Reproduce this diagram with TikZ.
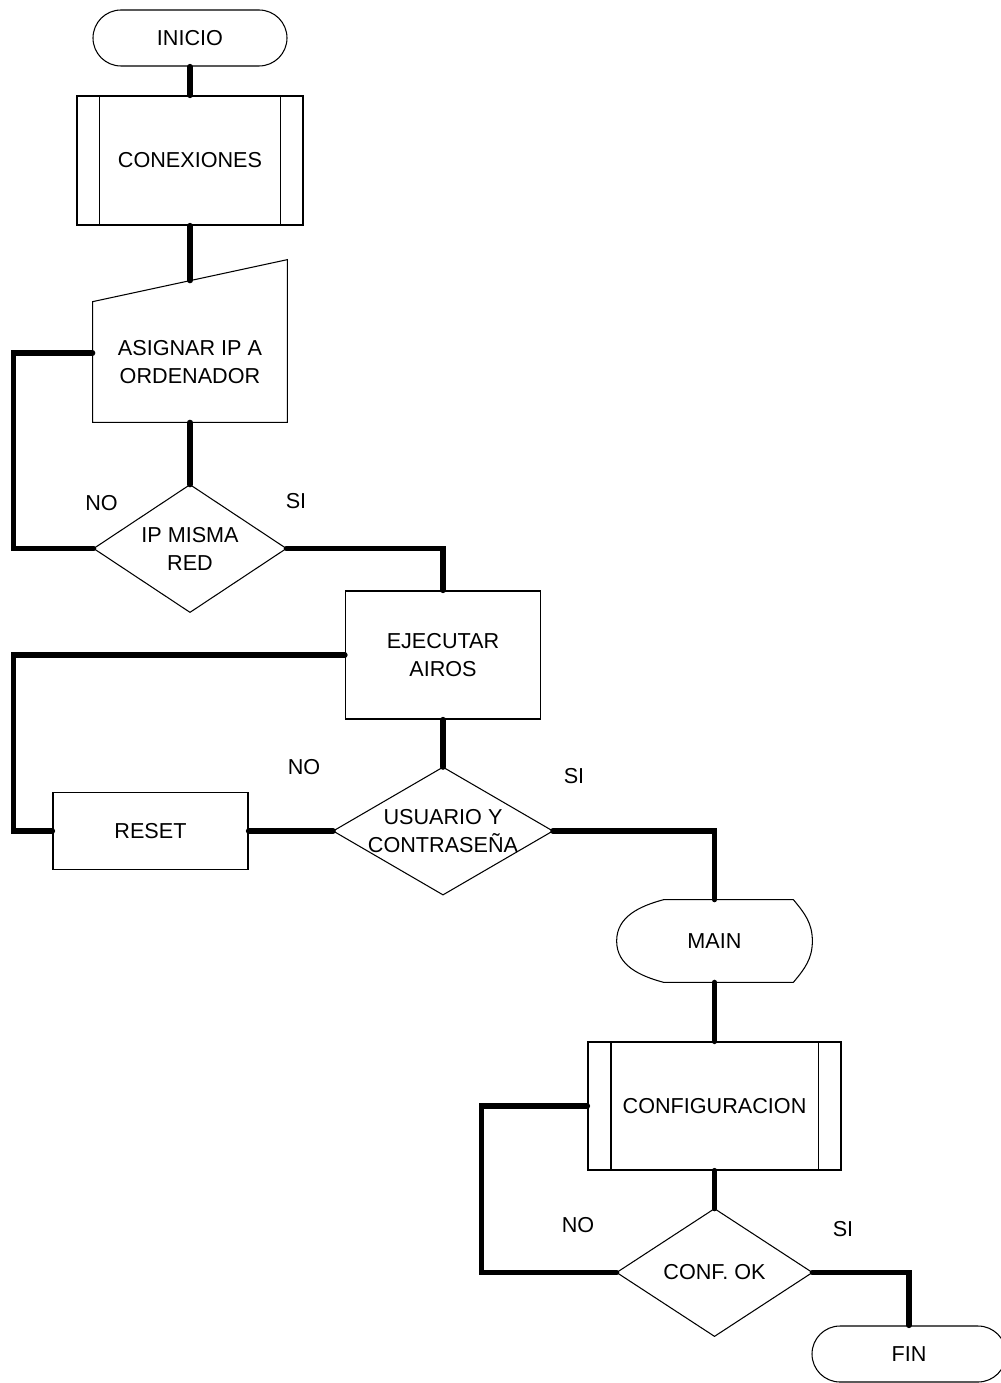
\documentclass[tikz,border=0pt]{standalone}
\usepackage{fontspec}
\setmainfont{Liberation Sans}
\usetikzlibrary{calc,positioning}

\begin{document}
\begin{tikzpicture}[
  base/.style={font=\fontsize{12.3pt}{15.9pt}\selectfont,align=center,inner sep=0pt},
  term/.style={base,draw,line width=0.6pt,rounded corners=0.56cm,minimum width=3.88cm,minimum height=1.12cm},
  proc/.style={base,draw,line width=0.6pt},
  hold/.style={base},
  edge/.style={line width=0.6pt},
  conn/.style={line width=3pt,line cap=round},
  lbl/.style={font=\fontsize{12.3pt}{15.9pt}\selectfont,inner sep=0pt}]
  \useasboundingbox (0,0) rectangle (20,-27.66);
  \node[term] (inicio) at (3.8,-0.76) {INICIO};
  \node[proc,minimum width=4.52cm,minimum height=2.58cm] (conex) at (3.8,-3.21) {CONEXIONES};
  \node[hold,minimum width=3.88cm,minimum height=2.4cm] (asign) at (3.8,-7.24) {ASIGNAR IP A\\ORDENADOR};
  \node[hold,minimum width=3.84cm,minimum height=2.54cm] (ipred) at (3.8,-10.97) {IP MISMA\\RED};
  \node[proc,minimum width=3.9cm,minimum height=2.56cm] (ejec) at (8.86,-13.1) {EJECUTAR\\AIROS};
  \node[proc,minimum width=3.9cm,minimum height=1.54cm] (reset) at (3.01,-16.62) {RESET};
  \node[hold,minimum width=4.38cm,minimum height=2.54cm] (user) at (8.86,-16.62) {USUARIO Y\\CONTRASEÑA};
  \node[hold,minimum width=3.9cm,minimum height=1.64cm] (mainn) at (14.29,-18.82) {MAIN};
  \node[proc,minimum width=5.06cm,minimum height=2.56cm] (conf) at (14.29,-22.12) {CONFIGURACION};
  \node[hold,minimum width=3.9cm,minimum height=2.54cm] (confok) at (14.29,-25.45) {CONF. OK};
  \node[term] (fin) at (18.18,-27.08) {FIN};
  % outlines of the special shapes
  \foreach \n/\d in {conex/0.46,conf/0.47} {
    \draw[edge] ($(\n.north west)+(\d,0)$) -- ($(\n.south west)+(\d,0)$);
    \draw[edge] ($(\n.north east)-(\d,0)$) -- ($(\n.south east)-(\d,0)$);
  }
  \draw[edge] (asign.north west) -- ($(asign.north east)+(0,0.84)$) -- (asign.south east) -- (asign.south west) -- cycle;
  \foreach \n in {ipred,user,confok}
    \draw[edge] (\n.north) -- (\n.east) -- (\n.south) -- (\n.west) -- cycle;
  \draw[edge] (mainn.west) to[out=90,in=195] ($(mainn.north west)+(0.94,0)$) -- ($(mainn.north east)-(0.38,0)$)
    to[out=-50,in=90] (mainn.east) to[out=-90,in=50] ($(mainn.south east)-(0.38,0)$)
    -- ($(mainn.south west)+(0.94,0)$) to[out=165,in=-90] (mainn.west);
  % connectors
  \coordinate (asigntop) at ($(asign.north)+(0,0.42)$);
  \draw[conn] (inicio)--(conex); \draw[conn] (conex.south)--(asigntop); \draw[conn] (asign)--(ipred);
  \draw[conn] (ipred.west) -- ++(-1.6,0) |- ([yshift=0.18cm]asign.west);
  \draw[conn] (ipred.east) -| (ejec.north);
  \draw[conn] (ejec.west) -- ++(-6.63,0) |- (reset.west);
  \draw[conn] (ejec)--(user); \draw[conn] (reset)--(user);
  \draw[conn] (user.east) -| (mainn.north);
  \draw[conn] (mainn)--(conf);
  \draw[conn] (conf.west) -- ++(-2.12,0) |- (confok.west);
  \draw[conn] (conf)--(confok);
  \draw[conn] (confok.east) -| (fin.north);
  % branch labels
  \node[lbl] (no1) at (2.03,-10.07) {NO};
  \node[lbl] (si1) at (5.92,-10.03) {SI};
  \node[lbl] (no2) at (6.08,-15.35) {NO};
  \node[lbl] (si2) at (11.48,-15.53) {SI};
  \node[lbl] (no3) at (11.56,-24.5) {NO};
  \node[lbl] (si3) at (16.86,-24.58) {SI};
\end{tikzpicture}
\end{document}
